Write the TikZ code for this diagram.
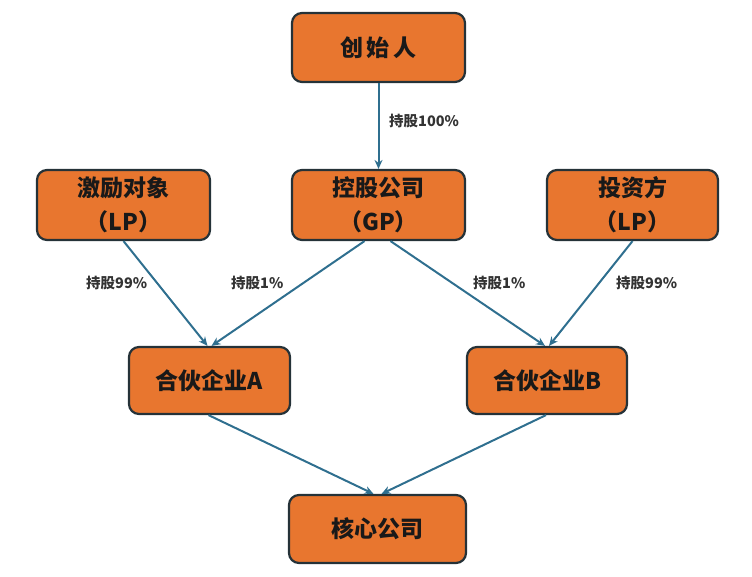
\documentclass[tikz,border=0pt]{standalone}
\usepackage{fontspec}
\setmainfont{Noto Sans CJK SC}
\usetikzlibrary{arrows.meta}
\definecolor{boxfill}{HTML}{E8762F}
\definecolor{boxline}{HTML}{253238}
\definecolor{arrowc}{HTML}{2F6F8F}
\definecolor{labc}{HTML}{333333}
\tikzset{
  box/.style={draw=boxline, line width=2.2pt, fill=boxfill, rounded corners=10pt,
    minimum width=#1, align=center, inner sep=0pt, text=black!90,
    font=\fontsize{23}{34}\selectfont\bfseries},
  box/.default=173pt,
  link/.style={draw=arrowc, line width=2pt, -{Stealth[length=9pt,width=8pt]}},
  lab/.style={font=\fontsize{14.5}{16}\selectfont\bfseries, text=labc, inner sep=0pt}
}
\begin{document}
\begin{tikzpicture}[x=1pt,y=-1pt]
\useasboundingbox (0,0) rectangle (752,577);
\node[box, minimum height=69pt] (fdr) at (378.5,47.5) {创\,始\,人};
\node[box, minimum height=70pt] (gp) at (378.5,205) {控股公司\\（GP）};
\node[box, minimum height=70pt] (jl) at (123.5,205) {激励对象\\（LP）};
\node[box=171pt, minimum height=70pt] (tz) at (632.5,205) {投资方\\（LP）};
\node[box=161pt, minimum height=67pt] (pa) at (209.5,380.5) {合伙企业A};
\node[box=160pt, minimum height=67pt] (pb) at (547,380.5) {合伙企业B};
\node[box=177pt, minimum height=68pt] (core) at (377.5,529) {核心公司};
\draw[link] (fdr.south) -- (gp.north);
\draw[link] (jl.south) -- ([xshift=-2pt]pa.north);
\draw[link] ([xshift=-14pt]gp.south) -- ([xshift=2pt]pa.north);
\draw[link] ([xshift=12pt]gp.south) -- ([xshift=-2pt]pb.north);
\draw[link] (tz.south) -- ([xshift=2pt]pb.north);
\draw[link] ([xshift=-1pt]pa.south) -- ([xshift=-4pt]core.north);
\draw[link] ([xshift=-1pt]pb.south) -- ([xshift=4pt]core.north);
\node[lab, anchor=west] (l1) at (389,121) {持股100\%};
\node[lab, anchor=west] (l2) at (86,283) {持股99\%};
\node[lab, anchor=west] (l3) at (231,283) {持股1\%};
\node[lab, anchor=west] (l4) at (473,283) {持股1\%};
\node[lab, anchor=west] (l5) at (616,283) {持股99\%};
\end{tikzpicture}
\end{document}
